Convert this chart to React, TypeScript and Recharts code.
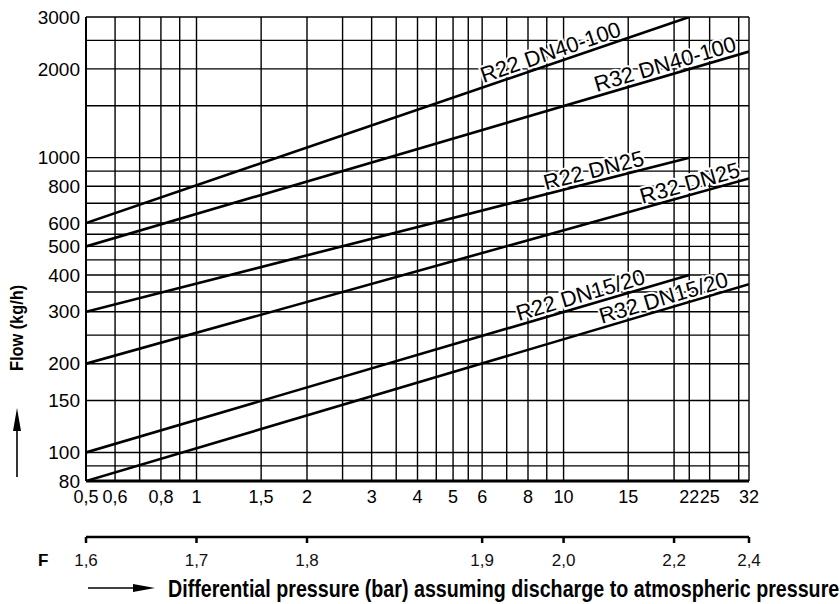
import { ComposedChart, Line, XAxis, YAxis, CartesianGrid, ReferenceDot } from "recharts";

// differential pressure (bar), log axis
const dpGrid = [0.5, 0.6, 0.7, 0.8, 0.9, 1, 1.5, 2, 2.5, 3, 3.5, 4, 4.5, 5, 5.5, 6, 7, 8, 9, 10, 15, 20, 22, 25, 30, 32];
const dpLabels = [0.5, 0.6, 0.8, 1, 1.5, 2, 3, 4, 5, 6, 8, 10, 15, 22, 25, 32];

// flow (kg/h), log axis
const flowGrid = [80, 90, 100, 150, 200, 250, 300, 350, 400, 450, 500, 550, 600, 700, 800, 900, 1000, 1500, 2000, 2500, 3000];
const flowLabels = [80, 100, 150, 200, 300, 400, 500, 600, 800, 1000, 2000, 3000];

// F scale under the chart
const fTickPos = [0.5, 1, 2, 6, 10, 20, 32];
const fTickLabels = ["1,6", "1,7", "1,8", "1,9", "2,0", "2,2", "2,4"];

// series (straight lines on log-log paper)
const r22Dn40 = [{ dp: 0.5, flow: 600 }, { dp: 22, flow: 3000 }];
const r32Dn40 = [{ dp: 0.5, flow: 500 }, { dp: 32, flow: 2290 }];
const r22Dn25 = [{ dp: 0.5, flow: 300 }, { dp: 22, flow: 1000 }];
const r32Dn25 = [{ dp: 0.5, flow: 200 }, { dp: 32, flow: 850 }];
const r22Dn15 = [{ dp: 0.5, flow: 100 }, { dp: 22, flow: 400 }];
const r32Dn15 = [{ dp: 0.5, flow: 80 }, { dp: 32, flow: 372 }];

const series = [r22Dn40, r32Dn40, r22Dn25, r32Dn25, r22Dn15, r32Dn15];

// where each curve name sits along its line
const lineLabels = [
  { text: "R22 DN40-100", dp: 6.1, flow: 1740, tilt: -18.9 },
  { text: "R32 DN40-100", dp: 12.4, flow: 1620, tilt: -16.4 },
  { text: "R22 DN25", dp: 9, flow: 752, tilt: -14.3 },
  { text: "R32 DN25", dp: 16.5, flow: 675, tilt: -15.6 },
  { text: "R22 DN15/20", dp: 7.6, flow: 271, tilt: -16.4 },
  { text: "R32 DN15/20", dp: 12.8, flow: 265, tilt: -16.5 },
];

const FONT = "'Liberation Sans', Arial, Helvetica, sans-serif";

const fmt = (v: number) => String(v).replace(".", ",");

const FlowTick = ({ x, y, payload }: any) =>
  flowLabels.includes(payload.value) ? (
    <text x={x} y={y} dy="0.35em" textAnchor="end" fontSize={19} fontFamily={FONT} fill="#000">
      {payload.value}
    </text>
  ) : null;

const DpTick = ({ x, y, payload }: any) =>
  dpLabels.includes(payload.value) ? (
    <text x={x} y={y} dy="0.71em" textAnchor="middle" fontSize={18} fontFamily={FONT} fill="#000">
      {fmt(payload.value)}
    </text>
  ) : null;

const FTick = ({ x, y, payload }: any) => (
  <text x={x} y={y} dy="0.71em" textAnchor="middle" fontSize={17} fontFamily={FONT} fill="#111">
    {fTickLabels[fTickPos.indexOf(payload.value)]}
  </text>
);

const BottomTitle = ({ viewBox }: any) => {
  const x0 = viewBox.x;
  const y0 = viewBox.y;
  return (
    <g>
      <text x={x0 - 48} y={y0 + 29} fontSize={17} fontWeight="bold" fontFamily={FONT} fill="#000">
        F
      </text>
      <line x1={x0 + 2} y1={y0 + 51} x2={x0 + 50} y2={y0 + 51} stroke="#000" strokeWidth={1.6} />
      <polygon points={`${x0 + 69},${y0 + 51} ${x0 + 47},${y0 + 47} ${x0 + 47},${y0 + 55}`} fill="#000" />
      <text
        transform={`translate(${x0 + 82},${y0 + 60}) scale(0.82,1)`}
        fontSize={24}
        fontWeight="bold"
        fontFamily={FONT}
        fill="#000"
      >
        Differential pressure (bar) assuming discharge to atmospheric pressure
      </text>
    </g>
  );
};

const SideTitle = () => (
  <g>
    <text
      transform="translate(23,328) rotate(-90) scale(0.86,1)"
      textAnchor="middle"
      fontSize={19}
      fontWeight="bold"
      fontFamily={FONT}
      fill="#000"
    >
      Flow (kg/h)
    </text>
    <line x1={17} y1={477} x2={17} y2={426} stroke="#000" strokeWidth={1.6} />
    <polygon points="17,408 13,431 21,431" fill="#000" />
  </g>
);

const CurveName = ({ viewBox, caption, tilt }: any) => (
  <text
    transform={`translate(${viewBox.x},${viewBox.y}) rotate(${tilt})`}
    x={0}
    y={-4}
    fontSize={22}
    fontFamily={FONT}
    fill="#000"
    stroke="#fff"
    strokeWidth={4}
    paintOrder="stroke"
  >
    {caption}
  </text>
);

export default function App() {
  return (
    <div style={{ position: "absolute", left: 0, top: 0, width: 840, height: 604, background: "#fff" }}>
      <ComposedChart width={840} height={604} margin={{ top: 17, right: 91, bottom: 0, left: 0 }}>
        <CartesianGrid stroke="#000" strokeWidth={1.4} />
        <XAxis
          dataKey="dp"
          type="number"
          scale="log"
          domain={[0.5, 32]}
          allowDataOverflow
          ticks={dpGrid}
          interval={0}
          tick={<DpTick />}
          tickLine={false}
          tickSize={0}
          tickMargin={9}
          height={56}
          axisLine={{ stroke: "#000", strokeWidth: 3 }}
        />
        <XAxis
          xAxisId="f"
          dataKey="dp"
          type="number"
          scale="log"
          domain={[0.5, 32]}
          allowDataOverflow
          ticks={fTickPos}
          interval={0}
          tick={<FTick />}
          tickLine={{ stroke: "#000", strokeWidth: 2.5 }}
          tickSize={6}
          tickMargin={11}
          height={67}
          axisLine={{ stroke: "#000", strokeWidth: 2.5 }}
          label={<BottomTitle />}
        />
        <YAxis
          dataKey="flow"
          type="number"
          scale="log"
          domain={[80, 3000]}
          allowDataOverflow
          ticks={flowGrid}
          interval={0}
          tick={<FlowTick />}
          tickLine={false}
          tickSize={0}
          tickMargin={6}
          width={86}
          axisLine={{ stroke: "#000", strokeWidth: 2 }}
          label={<SideTitle />}
        />
        {series.map((d, i) => (
          <Line
            key={i}
            data={d}
            dataKey="flow"
            type="linear"
            stroke="#000"
            strokeWidth={2.6}
            dot={false}
            activeDot={false}
            isAnimationActive={false}
          />
        ))}
        {/* invisible copy bound to the F axis so that axis gets a scale */}
        <Line
          xAxisId="f"
          data={r32Dn40}
          dataKey="flow"
          stroke="none"
          dot={false}
          activeDot={false}
          legendType="none"
          isAnimationActive={false}
        />
        {lineLabels.map((l) => (
          <ReferenceDot
            key={l.text}
            x={l.dp}
            y={l.flow}
            r={0}
            fill="none"
            stroke="none"
            label={<CurveName caption={l.text} tilt={l.tilt} />}
          />
        ))}
      </ComposedChart>
    </div>
  );
}
